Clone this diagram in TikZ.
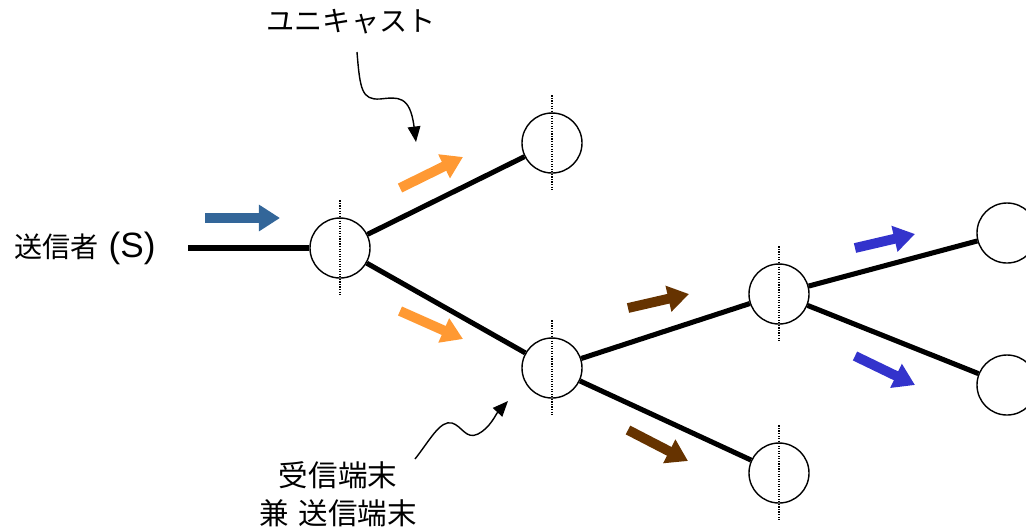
\documentclass[tikz,border=0pt]{standalone}
\usepackage{fontspec}
\newfontfamily\jpfont{Noto Sans CJK JP}
\newfontfamily\lsfont{Liberation Sans}
\usetikzlibrary{arrows.meta}
\definecolor{steel}{HTML}{336699}
\definecolor{orng}{HTML}{FF9933}
\definecolor{brwn}{HTML}{663300}
\definecolor{blu}{HTML}{3333CC}
\tikzset{
  peer/.style={circle,draw,line width=1pt,minimum size=1.5cm,inner sep=0pt},
  link/.style={line width=3.6pt},
  flow/.style={line width=7pt,-{Triangle[length=15pt,width=18pt]}},
  axis/.style={densely dotted,line width=0.8pt},
  callout/.style={line width=1pt,-{Triangle[length=11pt,width=9pt]}},
  lbl/.style={font=\jpfont\fontsize{20}{27}\selectfont,align=center},
}

\begin{document}
\begin{tikzpicture}[x=0.025cm,y=-0.025cm]
\useasboundingbox (0,0) rectangle (1026,529);
\node[lbl] (snd) at (85,248) {送信者\lsfont\fontsize{25}{27}\selectfont{} (S)};
\coordinate (s0) at (188,248);
\node[peer] (a) at (340,248) {};
\node[peer] (b) at (552,143) {};
\node[peer] (c) at (552,368) {};
\node[peer] (d) at (779,294) {};
\node[peer] (e) at (779,473) {};
\node[peer] (f) at (1007,233) {};
\node[peer] (g) at (1007,385) {};
\draw[link] (s0) -- (a);
\draw[link] (a) -- (b);
\draw[link] (a) -- (c);
\draw[link] (c) -- (d);
\draw[link] (c) -- (e);
\draw[link] (d) -- (f);
\draw[link] (d) -- (g);
\foreach \n in {a,b,c,d,e}
  \draw[axis] ([yshift=12pt]\n.north) -- ([yshift=-11pt]\n.south);
% flows
\draw[flow,steel] (205,218) -- (280,218);
\draw[flow,orng] (400,188) -- (463,157);
\draw[flow,orng] (400,311) -- (463,339);
\draw[flow,brwn] (628,308) -- (689,294);
\draw[flow,brwn] (628,430) -- (688,461);
\draw[flow,blu] (855,248) -- (915,234);
\draw[flow,blu] (855,356) -- (915,385);
% labels
\node[lbl] (uni) at (351,22) {ユニキャスト};
\node[lbl,font=\jpfont\fontsize{21}{27}\selectfont] (rcv) at (338,494) {受信端末\\兼\hspace{0.35em}送信端末};
\coordinate (u0) at (357,52);
\coordinate (u1) at (416,142);
\draw[callout] (u0) .. controls (360,90) and (362,100) .. (380,99)
  .. controls (398,97) and (410,95) .. (u1);
\coordinate (r0) at (415,459);
\coordinate (r1) at (508,401);
\draw[callout] (r0) .. controls (430,440) and (440,420) .. (452,423)
  .. controls (462,426) and (466,440) .. (478,434) .. controls (490,428) and (496,414) .. (r1);
\end{tikzpicture}
\end{document}
